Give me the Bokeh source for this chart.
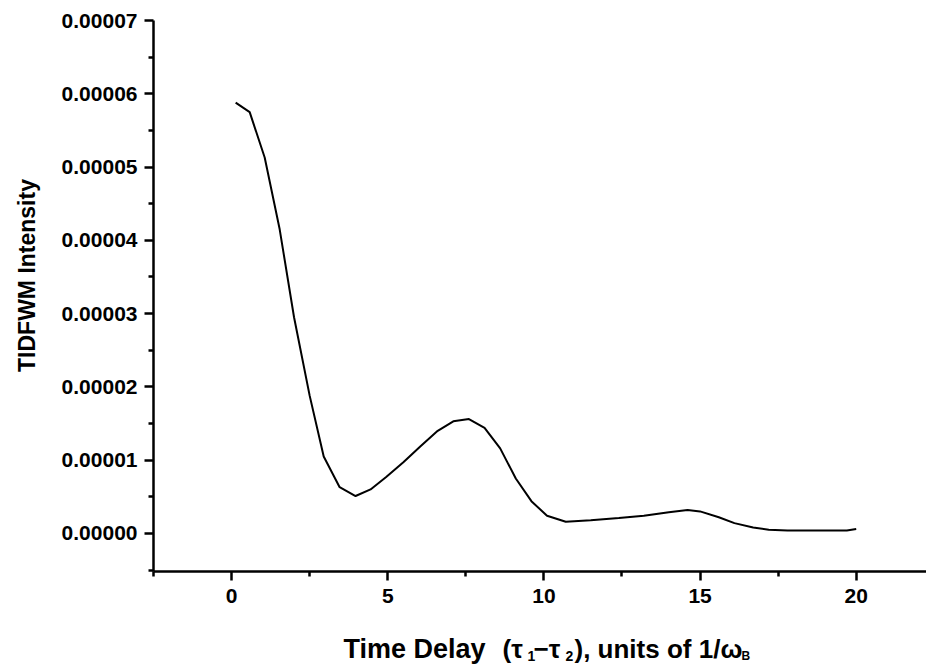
from bokeh.plotting import figure
from bokeh.models import Label, FixedTicker, PrintfTickFormatter, Range1d
from bokeh.embed import file_html
from bokeh.resources import INLINE
import math

# ---- data ----
delay = [0.13, 0.58, 1.06, 1.54, 2.0, 2.5, 2.95, 3.46, 3.97, 4.45, 4.95, 5.5,
         6.05, 6.6, 7.1, 7.6, 8.1, 8.6, 9.1, 9.6, 10.1, 10.7, 11.5, 12.4,
         13.2, 14.0, 14.6, 15.0, 15.6, 16.1, 16.7, 17.2, 17.8, 18.8, 19.7, 20.0]
intensity_e5 = [5.88, 5.75, 5.13, 4.15, 2.95, 1.88, 1.05, 0.63, 0.51, 0.60, 0.77, 0.97,
                1.19, 1.40, 1.53, 1.56, 1.44, 1.16, 0.75, 0.44, 0.24, 0.16, 0.18, 0.21,
                0.24, 0.29, 0.32, 0.30, 0.22, 0.14, 0.08, 0.05, 0.04, 0.04, 0.04, 0.06]
intensity = [v * 1e-5 for v in intensity_e5]

x_ticks = [0, 5, 10, 15, 20]
x_minor = [-2.5, 2.5, 7.5, 12.5, 17.5, 22.5]
y_ticks = [0.0, 0.00001, 0.00002, 0.00003, 0.00004, 0.00005, 0.00006, 0.00007]
y_minor = [-0.000005, 0.000005, 0.000015, 0.000025, 0.000035, 0.000045, 0.000055, 0.000065]

y_title = "TIDFWM Intensity"

FONT = "Liberation Sans"
W, H = 926, 664

# axis box: data limits and where they sit on the page (pixels)
X0, X1 = -2.5, 22.25
Y0, Y1 = -0.0000052, 0.00007
FL, FR, FT, FB = 153, 926, 20, 571

sx = (X1 - X0) / (FR - FL)
sy = (Y1 - Y0) / (FB - FT)


def dx(px):
    return X0 + (px - FL) * sx


def dy(py):
    return Y0 + (FB - py) * sy


p = figure(width=W, height=H, output_backend="svg", toolbar_location=None,
           x_range=Range1d(dx(0), dx(W)), y_range=Range1d(dy(H), dy(0)),
           min_border=0, min_border_left=0, min_border_right=0,
           min_border_top=0, min_border_bottom=0)
p.outline_line_color = None
p.grid.visible = False
p.background_fill_color = "white"
p.border_fill_color = "white"

p.line(delay, intensity, line_color="black", line_width=2)

p.xaxis.ticker = FixedTicker(ticks=x_ticks, minor_ticks=x_minor)
p.yaxis.ticker = FixedTicker(ticks=y_ticks, minor_ticks=y_minor)
p.yaxis.formatter = PrintfTickFormatter(format="%.5f")
p.xaxis.fixed_location = Y0
p.yaxis.fixed_location = X0
p.xaxis.bounds = (X0, X1)
p.yaxis.bounds = (Y0, Y1)

for ax in (p.xaxis[0], p.yaxis[0]):
    ax.axis_line_color = "black"
    ax.axis_line_width = 2.5
    ax.major_tick_line_color = "black"
    ax.major_tick_line_width = 2.5
    ax.major_tick_in = 0
    ax.major_tick_out = 9
    ax.minor_tick_line_color = "black"
    ax.minor_tick_line_width = 2.5
    ax.minor_tick_in = 0
    ax.minor_tick_out = 5
    ax.major_label_text_font = FONT
    ax.major_label_text_font_size = "21px"
    ax.major_label_text_font_style = "bold"
    ax.major_label_text_color = "black"
p.yaxis.major_label_standoff = 7
p.xaxis.major_label_standoff = 8

# y axis title (rotated)
p.add_layout(Label(x=dx(26), y=dy(275), text=y_title,
                   angle=math.pi / 2, text_align="center", text_baseline="alphabetic",
                   text_font=FONT, text_font_size="23px", text_font_style="bold",
                   text_color="black"))

# x axis title with subscripts, built from pieces
pieces = [
    ("Time Delay", 343, 648, "27px"),
    ("(\u03c4", 502, 648, "26px"),
    ("1", 527, 655, "14px"),
    ("\u2212\u03c4", 533, 648, "26px"),
    ("2", 565, 655, "14px"),
    ("), units of 1/\u03c9", 574, 648, "26px"),
    ("B", 741, 655, "12px"),
]
for txt, px, base, size in pieces:
    p.add_layout(Label(x=dx(px), y=dy(base), text=txt, text_align="left",
                       text_baseline="alphabetic", text_font=FONT,
                       text_font_size=size, text_font_style="bold",
                       text_color="black"))

open("out.html", "w").write(file_html(p, INLINE))
